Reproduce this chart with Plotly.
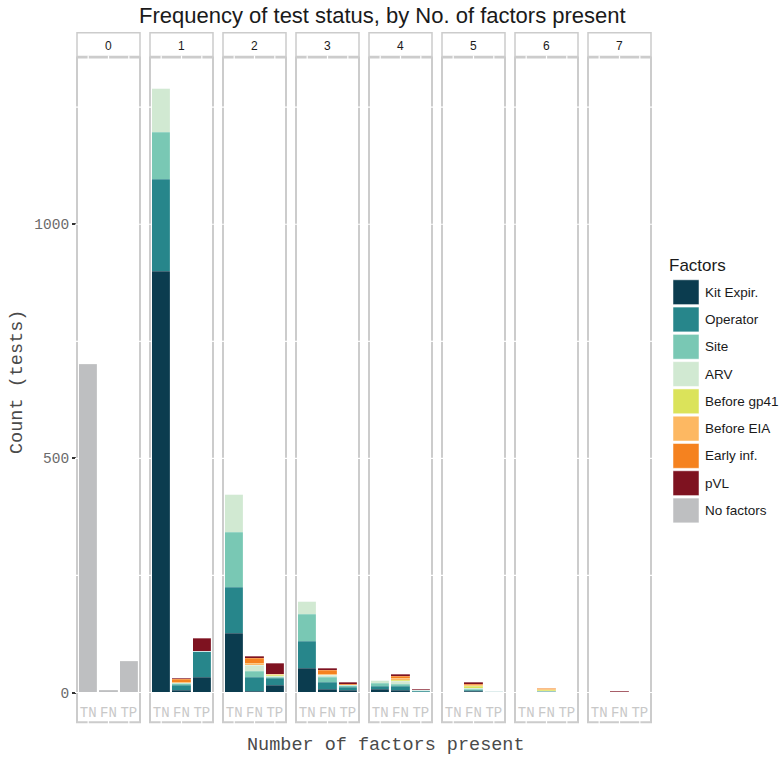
import plotly.graph_objects as go

W, H = 783, 766

panels = ["0", "1", "2", "3", "4", "5", "6", "7"]
statuses = ["TN", "FN", "TP"]

factor_names = ["Kit Expir.", "Operator", "Site", "ARV", "Before gp41",
                "Before EIA", "Early inf.", "pVL", "No factors"]
factor_colors = ["#0b3c4f", "#27868b", "#79c8b4", "#d1e9d2", "#dbe35a",
                 "#fdb862", "#f5821f", "#7e1220", "#bebfc1"]

# counts per panel (No. of factors), each as [TN, FN, TP]
kit_expir = [[0, 0, 0], [900, 4, 32], [126, 3, 14], [52, 6, 4], [6, 4, 0],
             [0, 1.5, 0], [0, 0, 0], [0, 0, 0]]
operator = [[0, 0, 0], [196, 11, 55], [99, 28, 15], [57, 15, 6], [7, 8, 2],
            [0, 3, 1.5], [0, 1.5, 0], [0, 0, 0]]
site = [[0, 0, 0], [99, 4, 0], [116, 14, 4], [58, 10, 4], [7, 6, 1.5],
        [0, 2, 0], [0, 1, 0], [0, 0, 0]]
arv = [[0, 0, 0], [95, 0, 0], [82, 13, 2], [28, 5, 1], [6, 5, 0],
       [0, 2.5, 0], [0, 0, 0], [0, 0, 0]]
before_gp41 = [[0, 0, 0], [0, 0, 0], [0, 0, 2], [0, 0, 0], [0, 3, 0],
               [0, 3, 0], [0, 1, 0], [0, 0, 0]]
before_eia = [[0, 0, 0], [0, 2, 0], [0, 3, 2], [0, 2, 0], [0, 4, 0],
              [0, 3, 0], [0, 2, 0.5], [0, 0, 0]]
early_inf = [[0, 0, 0], [0, 7, 0], [0, 12, 0], [0, 8, 2], [0, 4, 1],
             [0, 3, 0], [0, 2, 0], [0, 0.6, 0]]
pvl = [[0, 0, 0], [0, 2, 29], [0, 4, 22], [0, 6, 5], [0, 5, 1.5],
       [0, 2.5, 1.5], [0, 1, 0.5], [0, 0.6, 0]]
no_factors = [[700, 5, 67], [0, 0, 0], [0, 0, 0], [0, 0, 0], [0, 0, 0],
              [0, 0, 0], [0, 0, 0], [0, 0, 0]]

factor_values = [kit_expir, operator, site, arv, before_gp41, before_eia,
                 early_inf, pvl, no_factors]

y_ticks = [0, 500, 1000]
grid_vals = [0, 250, 500, 750, 1000, 1250]
y_range = [-6.4, 1356]

# layout geometry (pixels)
P_LEFT0, P_W, P_STEP = 77, 63, 73
DATA_TOP, DATA_BOT, BOX_BOT = 58, 701, 728
STRIP_TOP = 33


def px(x):
    return x / W


def py(y):
    return 1 - y / H


fig = go.Figure()

for vals, name, col in zip(factor_values, factor_names, factor_colors):
    for p in range(len(panels)):
        fig.add_trace(go.Bar(
            x=statuses, y=vals[p], name=name,
            xaxis="x" if p == 0 else f"x{p+1}",
            yaxis="y" if p == 0 else f"y{p+1}",
            marker=dict(color=col, line=dict(color="rgba(255,255,255,0.25)", width=0.5)),
            width=0.9, showlegend=False,
            hovertemplate=name + ": %{y}<extra></extra>",
        ))

layout = dict(
    width=W, height=H,
    margin=dict(l=0, r=0, t=0, b=0),
    paper_bgcolor="white", plot_bgcolor="rgba(0,0,0,0)",
    barmode="stack", bargap=0,
    showlegend=False,
)

shapes = []
annotations = []


def note(x, y, text, font, **kw):
    d = dict(xref="paper", yref="paper", x=px(x), y=py(y), text=text,
             showarrow=False, xanchor="center", yanchor="middle", font=font)
    d.update(kw)
    annotations.append(d)


for p in range(len(panels)):
    xl = P_LEFT0 + P_STEP * p
    xr = xl + P_W
    xk = "xaxis" if p == 0 else f"xaxis{p+1}"
    yk = "yaxis" if p == 0 else f"yaxis{p+1}"
    xref = "x" if p == 0 else f"x{p+1}"
    yref = "y" if p == 0 else f"y{p+1}"
    layout[xk] = dict(
        domain=[px(xl), px(xr)], anchor=yref, range=[-0.55, 2.55],
        type="category", categoryorder="array", categoryarray=statuses,
        showgrid=False, zeroline=False, showline=False, ticks="",
        ticklabelstandoff=6,
        tickfont=dict(family="Liberation Mono", size=14, color="#c8c8c8"),
        fixedrange=True,
    )
    layout[yk] = dict(
        domain=[py(DATA_BOT), py(DATA_TOP)], anchor=xref, range=y_range,
        tickvals=y_ticks, showgrid=False, zeroline=False, showline=False,
        showticklabels=(p == 0),
        ticks="outside" if p == 0 else "", ticklen=4, tickwidth=2, tickcolor="#333333",
        tickfont=dict(family="Liberation Mono", size=14.5, color="#6b6b6b"),
        fixedrange=True,
    )
    # panel border
    shapes.append(dict(type="rect", xref="paper", yref="paper",
                       x0=px(xl), x1=px(xr), y0=py(BOX_BOT), y1=py(DATA_TOP),
                       line=dict(color="#cccccc", width=2), layer="above"))
    # strip box
    shapes.append(dict(type="rect", xref="paper", yref="paper",
                       x0=px(xl), x1=px(xr), y0=py(DATA_TOP - 1), y1=py(STRIP_TOP),
                       line=dict(color="#cccccc", width=1.5), fillcolor="white",
                       layer="above"))
    note((xl + xr) / 2, (STRIP_TOP + DATA_TOP) / 2 + 0.5, panels[p],
         dict(family="Liberation Sans", size=12, color="#1a1a1a"))
    # white gridline cuts through the border
    for g in grid_vals:
        for bx in (xl, xr):
            shapes.append(dict(type="line", xref="paper", yref=yref,
                               x0=px(bx - 2), x1=px(bx + 2), y0=g, y1=g,
                               line=dict(color="white", width=1.2), layer="above"))
    for s in statuses:
        for by in (DATA_TOP, BOX_BOT):
            shapes.append(dict(type="line", xref=xref, yref="paper",
                               x0=s, x1=s, y0=py(by + 2), y1=py(by - 2),
                               line=dict(color="white", width=1.2), layer="above"))

# titles
note(382, 16, "Frequency of test status, by No. of factors present",
     dict(family="Liberation Sans", size=22, color="#1a1a1a"))
note(386, 751, "Number of factors present",
     dict(family="Liberation Mono", size=18.5, color="#4a4a4a"))
note(18, 385, "Count (tests)",
     dict(family="Liberation Mono", size=18.5, color="#4a4a4a"), textangle=-90)

# manual legend
note(667, 268, "Factors", dict(family="Liberation Sans", size=17, color="#1a1a1a"),
     xanchor="left")
for i, (name, col) in enumerate(zip(factor_names, factor_colors)):
    top = 282 + 27.5 * i
    shapes.append(dict(type="rect", xref="paper", yref="paper",
                       x0=px(673), x1=px(699), y0=py(top + 25), y1=py(top),
                       fillcolor=col, line=dict(color="white", width=0.5)))
    note(703, top + 12.5, name,
         dict(family="Liberation Sans", size=13.5, color="#1a1a1a"), xanchor="left")

layout["shapes"] = shapes
layout["annotations"] = annotations
fig.update_layout(**layout)

fig.write_html("out.html")
